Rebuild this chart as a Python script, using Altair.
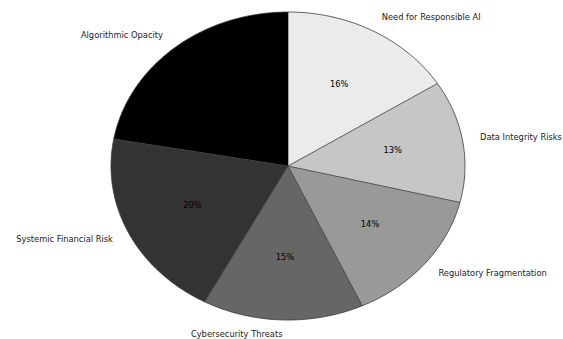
import altair as alt
import pandas as pd

categories = ["Need for Responsible AI", "Data Integrity Risks", "Regulatory Fragmentation",
              "Cybersecurity Threats", "Systemic Financial Risk", "Algorithmic Opacity"]
values = [16.0, 12.8, 14.3, 14.7, 20.0, 22.2]
colors = ["#ebebeb", "#c6c6c6", "#999999", "#666666", "#333333", "#000000"]

df = pd.DataFrame({"cat": categories, "value": values, "idx": list(range(len(categories)))})

W, H = 354, 308
PL, PT = 111, 12

xs = alt.Scale(domain=[-1, 1], nice=False, zero=False)
ys = alt.Scale(domain=[-1, 1], nice=False, zero=False)

base = alt.Chart(df).transform_joinaggregate(
    total="sum(value)"
).transform_window(
    cum="sum(value)", sort=[alt.SortField("idx")], frame=[None, 0]
).transform_calculate(
    a0="2*PI*(datum.cum - datum.value)/datum.total",
    a1="2*PI*datum.cum/datum.total",
).transform_calculate(
    mid="(datum.a0 + datum.a1)/2",
    pct="format(datum.value/datum.total, '.0%')",
)

wedges = base.transform_calculate(
    ks="sequence(-1, 61)"
).transform_flatten(["ks"]).transform_calculate(
    t="datum.a0 + (datum.a1 - datum.a0)*datum.ks/60",
).transform_calculate(
    px="datum.ks < 0 ? 0 : sin(datum.t)",
    py="datum.ks < 0 ? 0 : cos(datum.t)",
).mark_line(stroke="#3a3a3a", strokeWidth=0.8, interpolate="linear").encode(
    x=alt.X("px:Q", scale=xs, axis=None),
    y=alt.Y("py:Q", scale=ys, axis=None),
    fill=alt.Fill("cat:N", scale=alt.Scale(domain=categories, range=colors), legend=None),
    order=alt.Order("ks:Q"),
    detail="cat:N",
)

FS = 8.3
labels = base.transform_calculate(
    lx="1.1*sin(datum.mid)", ly="1.1*cos(datum.mid)"
)
lab_right = labels.transform_filter("datum.lx >= 0").mark_text(
    align="left", baseline="middle", font="DejaVu Sans", fontSize=FS, color="#222222"
).encode(x=alt.X("lx:Q", scale=xs, axis=None), y=alt.Y("ly:Q", scale=ys, axis=None), text="cat:N")
lab_left = labels.transform_filter("datum.lx < 0").mark_text(
    align="right", baseline="middle", font="DejaVu Sans", fontSize=FS, color="#222222"
).encode(x=alt.X("lx:Q", scale=xs, axis=None), y=alt.Y("ly:Q", scale=ys, axis=None), text="cat:N")

pcts = base.transform_calculate(
    qx="0.6*sin(datum.mid)", qy="0.6*cos(datum.mid)"
).mark_text(
    align="center", baseline="middle", font="DejaVu Sans", fontSize=FS, color="#000000"
).encode(x=alt.X("qx:Q", scale=xs, axis=None), y=alt.Y("qy:Q", scale=ys, axis=None), text="pct:N")

chart = alt.layer(wedges, lab_right, lab_left, pcts).properties(
    width=W, height=H,
    autosize=alt.AutoSizeParams(type="none"),
    padding={"left": PL, "top": PT, "right": 563 - PL - W, "bottom": 339 - PT - H},
).configure_view(stroke=None)

chart.save("out.html", embed_options={"renderer": "svg", "actions": False})
